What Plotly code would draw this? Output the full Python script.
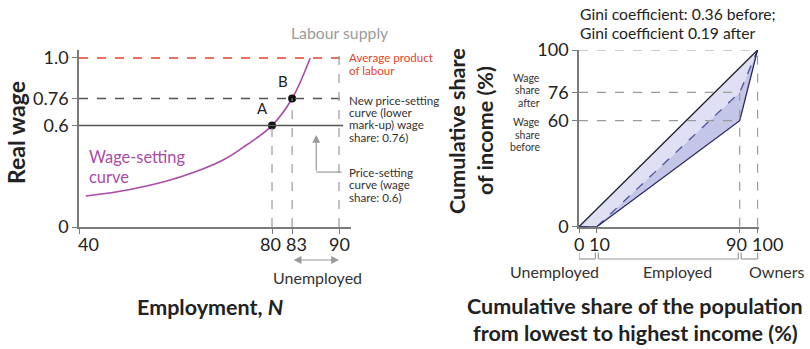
import plotly.graph_objects as go

# ---------------- data: labour market (left panel) ----------------
axis_start_label = "40"          # employment value printed at the (broken) axis origin
emp_ticks = [80, 83, 90]
wage_ticks = [0, 0.6, 0.76, 1.0]
wage_tick_text = ["0", "0.6", "0.76", "1.0"]

ws_employment = [52.2, 58.8, 66.3, 72.7, 76.2, 80, 83, 85.7]
ws_wage = [0.183, 0.222, 0.296, 0.396, 0.485, 0.6, 0.76, 1.0]

avg_product = 1.0
ps_old = 0.6
ps_new = 0.76
emp_A = 80
emp_B = 83
labour_supply = 90

# ---------------- data: Lorenz curves (right panel) ----------------
pop_ticks = [0, 10, 90, 100]
income_ticks = [0, 60, 76, 100]
equality_x = [0, 100]
equality_y = [0, 100]
lorenz_x = [0, 10, 90, 100]
lorenz_before = [0, 0, 60, 100]
lorenz_after = [0, 0, 76, 100]
groups = [("Unemployed", 0, 10), ("Employed", 10, 90), ("Owners", 90, 100)]

W, H = 810, 349
FONT = "Lato"
INK = "#222222"
AXIS = "#7a7a7a"
GREY = "#9a9a9a"
MAGENTA = "#ab4aa8"
RED = "#e5432a"


def px(x):
    return x / W


def py(y):
    return 1 - y / H


# left axis range chosen so that the origin sits at the broken-axis start
L_X0, L_X1 = 51.19, 91.79
L_Y1 = 1.047

fig = go.Figure()

# ---- left panel traces ----
fig.add_trace(go.Scatter(
    x=ws_employment, y=ws_wage, mode="lines",
    line=dict(color=MAGENTA, width=1.6, shape="spline", smoothing=1.0),
    xaxis="x", yaxis="y", hoverinfo="skip", cliponaxis=False))

fig.add_trace(go.Scatter(
    x=[emp_A, emp_B], y=[ps_old, ps_new], mode="markers",
    marker=dict(color="#111111", size=8),
    xaxis="x", yaxis="y", hoverinfo="skip"))

# ---- right panel traces (fills between successive curves) ----
fig.add_trace(go.Scatter(
    x=equality_x, y=equality_y, mode="lines",
    line=dict(color="#1b1b2b", width=1.3),
    xaxis="x2", yaxis="y2", hoverinfo="skip", cliponaxis=False))
fig.add_trace(go.Scatter(
    x=lorenz_x, y=lorenz_after, mode="lines", fill="tonexty",
    fillcolor="#dfe0f3",
    line=dict(color="#4d519c", width=1.3, dash="dash"),
    xaxis="x2", yaxis="y2", hoverinfo="skip", cliponaxis=False))
fig.add_trace(go.Scatter(
    x=lorenz_x, y=lorenz_before, mode="lines", fill="tonexty",
    fillcolor="#c3c6e7",
    line=dict(color="#26285e", width=1.3),
    xaxis="x2", yaxis="y2", hoverinfo="skip", cliponaxis=False))

shapes = []


def seg(x0, y0, x1, y1, color, dash="solid", width=1.4, xref="x", yref="y"):
    shapes.append(dict(type="line", x0=x0, y0=y0, x1=x1, y1=y1,
                       xref=xref, yref=yref,
                       line=dict(color=color, width=width, dash=dash)))


# left panel reference lines
line_end = labour_supply + 0.6
seg(L_X0, avg_product, line_end, avg_product, RED, "dash", 1.5)
seg(L_X0, ps_new, line_end, ps_new, "#555555", "dash", 1.5)
seg(L_X0, ps_old, line_end, ps_old, "#555555", "solid", 1.5)
seg(emp_A, 0, emp_A, ps_old, GREY, "dash", 1.2)
seg(emp_B, 0, emp_B, ps_new, GREY, "dash", 1.2)
seg(labour_supply, 0, labour_supply, L_Y1, GREY, "dash", 1.2)

# connector from the price-setting label to its line
conn_x = 86.6
conn_y = 0.325
seg(conn_x, conn_y, 90.4, conn_y, GREY, "solid", 1.2)

# right panel guide lines
seg(0, 100, 100, 100, GREY, "dash", 1.2, "x2", "y2")
seg(0, 76, 90, 76, GREY, "dash", 1.2, "x2", "y2")
seg(0, 60, 90, 60, GREY, "dash", 1.2, "x2", "y2")
seg(90, 0, 90, 76, GREY, "dash", 1.2, "x2", "y2")
seg(100, 0, 100, 100, GREY, "dash", 1.2, "x2", "y2")

# population group brackets under the right axis
br_top, br_bot = py(252.5), py(259)
for name, a, b in groups:
    a2 = a + (0.8 if a > 0 else 0)
    b2 = b - (0.8 if b < 100 else 0)
    seg(a2, br_bot, b2, br_bot, GREY, "solid", 1.2, "x2", "paper")
    seg(a2, br_top, a2, br_bot, GREY, "solid", 1.2, "x2", "paper")
    seg(b2, br_top, b2, br_bot, GREY, "solid", 1.2, "x2", "paper")

annotations = []


def note(x, y, text, size=12, color=INK, xanchor="left", xref="paper", yref="paper",
         align="left", angle=0, yanchor="middle", xshift=0):
    annotations.append(dict(x=x, y=y, xref=xref, yref=yref, text=text, showarrow=False,
                            xanchor=xanchor, yanchor=yanchor, align=align,
                            textangle=angle, xshift=xshift,
                            font=dict(family=FONT, size=size, color=color)))


def block(x, y_first, lines, size, color, spacing, xanchor="left"):
    """Multi-line label with a tight, explicit line pitch (pixels)."""
    for i, t in enumerate(lines):
        note(px(x), py(y_first + i * spacing), t, size, color, xanchor)


# x tick labels, nudged apart where neighbouring ticks crowd each other
left_tick_vals = [L_X0] + emp_ticks
left_tick_text = [axis_start_label] + [str(v) for v in emp_ticks]
left_tick_nudge = [9, -2, 4, 0]
for v, t, s in zip(left_tick_vals, left_tick_text, left_tick_nudge):
    note(v, py(243.5), t, 18, INK, "center", xref="x", xshift=s)

right_tick_nudge = [0, 3, -3.5, 10]
for v, s in zip(pop_ticks, right_tick_nudge):
    note(v, py(244), str(v), 18, INK, "center", xref="x2", xshift=s)

# left panel text
note(px(340), py(32), "Labour supply", 15.8, "#9a9a9a", "center")
block(347, 57.5, ["Average product", "of labour"], 11.6, RED, 12.5)
block(347, 100, ["New price-setting", "curve (lower", "mark-up) wage", "share: 0.76)"],
      11.6, "#333333", 12.5)
block(347, 172, ["Price-setting", "curve (wage", "share: 0.6)"], 11.6, "#333333", 12.5)
block(87, 156, ["Wage-setting", "curve"], 16.4, MAGENTA, 20)
note(emp_A - 1.4, ps_old + 0.04, "A", 15, INK, "center", "x", "y", yanchor="bottom")
note(emp_B - 1.4, ps_new + 0.04, "B", 15, INK, "center", "x", "y", yanchor="bottom")
note(px(317), py(277), "Unemployed", 16, "#333333", "center")
note(px(210), py(307), "<b>Employment, <i>N</i></b>", 21.5, INK, "center")
note(px(16), py(133), "<b>Real wage</b>", 23, INK, "center", angle=-90)

# arrows: price-setting pointer and unemployed span
annotations.append(dict(x=conn_x, y=0.544, ax=conn_x, ay=conn_y, xref="x", yref="y",
                        axref="x", ayref="y", showarrow=True, arrowhead=2,
                        arrowsize=1.3, arrowwidth=1.2, arrowcolor=GREY, text=""))
annotations.append(dict(x=labour_supply, y=py(260), ax=emp_B, ay=0, xref="x", yref="paper",
                        axref="x", ayref="pixel", showarrow=True, arrowhead=2,
                        arrowside="end+start", arrowsize=1.3, arrowwidth=1.2,
                        arrowcolor=GREY, text=""))

# right panel text
block(578, 14, ["Gini coefficient: 0.36 before;", "Gini coefficient 0.19 after"], 15.7, INK, 19)
block(542, 77.5, ["Wage", "share", "after"], 10.5, "#333333", 12.6, "right")
block(542, 122, ["Wage", "share", "before"], 10.5, "#333333", 12.6, "right")
for name, a, b in groups:
    cx = {"Unemployed": 554, "Employed": 677, "Owners": 777}[name]
    note(px(cx), py(271), name, 16, "#333333", "center")
note(px(635), py(306), "<b>Cumulative share of the population</b>", 21.5, INK, "center")
note(px(635), py(333), "<b>from lowest to highest income (%)</b>", 21.5, INK, "center")
note(px(457), py(131), "<b>Cumulative share</b>", 21.5, INK, "center", angle=-90)
note(px(485), py(131), "<b>of income (%)</b>", 21.5, INK, "center", angle=-90)

axis_common = dict(showgrid=False, zeroline=False, showline=True, linecolor=AXIS,
                   linewidth=1.5, ticks="outside", ticklen=5, tickcolor=AXIS,
                   tickwidth=1.3, tickfont=dict(family=FONT, size=18, color=INK),
                   tickangle=0, automargin=False, fixedrange=True)

fig.update_layout(
    width=W, height=H, margin=dict(l=0, r=0, t=0, b=0, autoexpand=False),
    paper_bgcolor="white", plot_bgcolor="white", showlegend=False,
    xaxis=dict(domain=[px(79), px(351)], range=[L_X0, L_X1], anchor="y",
               tickmode="array", tickvals=left_tick_vals, showticklabels=False,
               **axis_common),
    yaxis=dict(domain=[py(227), py(50)], range=[0, L_Y1], anchor="x",
               tickmode="array", tickvals=wage_ticks, ticktext=wage_tick_text,
               **axis_common),
    xaxis2=dict(domain=[px(579), px(759)], range=[0, 100.8], anchor="y2",
                tickmode="array", tickvals=pop_ticks, showticklabels=False,
                **axis_common),
    yaxis2=dict(domain=[py(226.7), py(50)], range=[0, 100], anchor="x2",
                tickmode="array", tickvals=income_ticks,
                ticktext=[str(v) for v in income_ticks], **axis_common),
    shapes=shapes, annotations=annotations,
)

fig.write_html("out.html")
